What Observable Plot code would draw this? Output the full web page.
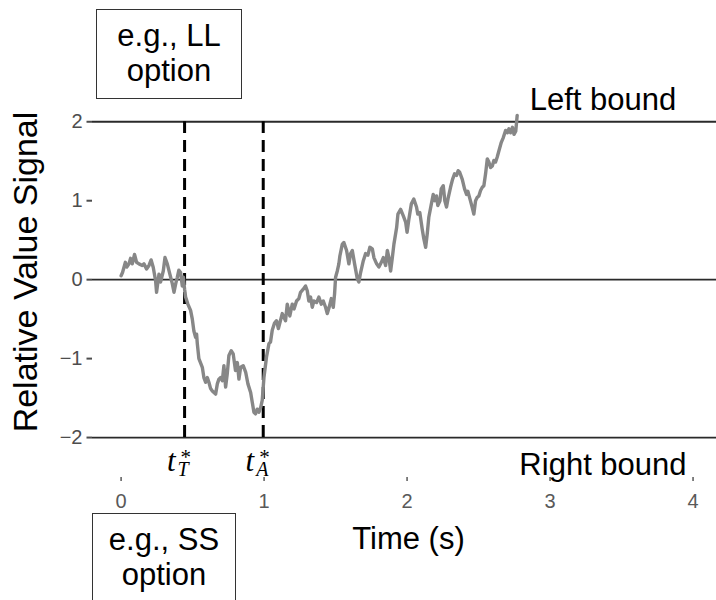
<!DOCTYPE html>
<html>
<head>
<meta charset="utf-8">
<script src="https://cdn.jsdelivr.net/npm/d3@7"></script>
<script src="https://cdn.jsdelivr.net/npm/@observablehq/plot@0.6"></script>
<style>
  html, body { margin: 0; padding: 0; background: #fff; overflow: hidden; }
  #wrap { position: relative; width: 716px; height: 600px; overflow: hidden; font-family: "Liberation Sans", Arial, sans-serif; }
  .box { position: absolute; box-sizing: border-box; border: 1.5px solid #333; background: #fff;
         font-size: 31px; line-height: 35px; text-align: center; color: #000; padding-top: 8px; }
</style>
</head>
<body>
<div id="wrap"></div>
<script>
// ---- data ----
const time = [0.0,0.01,0.03,0.04,0.055,0.066,0.078,0.094,0.108,0.125,0.148,0.16,0.178,0.195,0.21,0.225,0.241,0.248,0.265,0.276,0.295,0.307,0.323,0.341,0.358,0.37,0.382,0.393,0.404,0.416,0.428,0.436,0.444,0.451,0.467,0.486,0.498,0.509,
0.521,0.528,0.533,0.544,0.568,0.579,0.591,0.603,0.614,0.626,0.638,0.661,0.673,0.684,0.696,0.708,0.719,0.731,0.742,0.754,0.77,0.784,0.80,0.813,0.824,0.836,0.854,0.871,0.887,0.906,0.917,0.929,0.94,0.952,0.964,0.976,0.987,0.999,1.017,1.034,1.045,1.057,1.073,1.087,1.1,
1.127,1.15,1.162,1.18,1.197,1.21,1.227,1.243,1.255,1.274,1.29,1.302,1.313,1.325,1.337,1.348,1.367,1.383,1.4,1.414,1.43,1.442,1.455,1.47,1.484,1.493,1.5,1.512,1.523,1.53,1.547,1.558,1.577,1.593,1.605,1.617,1.633,1.652,1.663,1.675,1.694,1.71,1.726,1.74,1.757,1.768,1.787,1.803,1.82,1.834,1.85,1.862,1.873,1.885,1.897,1.908,1.927,1.936,1.955,1.973,1.99,2.0,2.013,
2.03,2.047,2.066,2.075,2.089,2.106,2.117,2.13,2.141,2.152,2.17,2.183,2.195,2.206,2.215,2.23,2.239,2.253,2.264,2.276,2.288,2.304,2.318,2.332,2.346,2.357,2.368,2.386,2.402,2.416,2.425,2.44,2.455,2.467,2.479,2.49,2.502,2.514,2.526,2.537,2.549,2.561,2.572,2.584,2.596,2.607,2.619,2.63,2.642,2.659,2.673,2.689,2.701,2.712,2.724,2.737,2.748,2.76,2.77];
const signal = [0.05,0.09,0.22,0.16,0.2,0.27,0.2,0.32,0.22,0.2,0.18,0.2,0.135,0.18,0.25,0.155,-0.01,-0.16,0.07,-0.03,0.11,0.28,0.2,0.07,-0.05,-0.16,-0.05,0.03,0.12,0.09,-0.08,0.03,-0.12,-0.22,-0.31,-0.39,-0.5,-0.65,
-0.73,-0.69,-0.81,-1.0,-1.11,-1.24,-1.3,-1.24,-1.3,-1.38,-1.41,-1.45,-1.32,-1.26,-1.24,-1.28,-1.09,-1.36,-1.2,-0.96,-0.9,-0.94,-1.15,-1.05,-1.26,-1.11,-1.09,-1.17,-1.32,-1.43,-1.55,-1.68,-1.7,-1.64,-1.68,-1.62,-1.53,-1.24,-0.98,-0.81,-0.79,-0.64,-0.55,-0.52,-0.62,
-0.43,-0.52,-0.31,-0.46,-0.31,-0.37,-0.27,-0.24,-0.16,-0.12,-0.08,-0.14,-0.27,-0.22,-0.35,-0.27,-0.29,-0.22,-0.31,-0.27,-0.35,-0.43,-0.35,-0.24,-0.35,-0.18,0.03,0.11,0.2,0.3,0.45,0.47,0.37,0.2,0.33,0.37,0.2,0.01,-0.03,0.09,0.24,0.33,0.31,0.41,0.39,0.28,0.2,0.16,0.22,0.28,0.18,0.37,0.28,0.11,0.28,0.45,0.66,0.83,0.89,0.81,0.73,0.6,0.77,
0.96,1.02,0.92,0.83,0.85,0.64,0.52,0.41,0.58,0.79,0.96,1.08,1.0,1.06,0.94,1.0,1.15,1.19,1.0,0.92,1.04,1.17,1.27,1.34,1.32,1.38,1.36,1.27,1.15,1.08,1.12,1.02,0.92,0.83,1.0,1.04,1.06,1.13,1.17,1.19,1.34,1.53,1.49,1.42,1.44,1.51,1.49,1.55,1.63,1.74,1.8,1.89,1.86,1.91,1.86,1.93,1.84,1.88,2.08];

const bounds = [2, 0, -2];                    // horizontal reference lines
const boundLabels = ["Left bound", "Right bound"];
const boundLabelX = [3.37, 3.37];
const boundLabelY = [2.28, -2.35];
const markerTimes = [0.444, 0.994];           // t*_T and t*_A
const markerSubs = ["T", "A"];
const xTicks = [0, 1, 2, 3, 4];
const yTicks = [-2, -1, 0, 1, 2];
const xTitle = "Time (s)";
const yTitle = "Relative Value Signal";
const boxTop = ["e.g., LL", "option"];
const boxBottom = ["e.g., SS", "option"];

// ---- chart ----
const sans = "Liberation Sans, Arial, sans-serif";
const serif = "Liberation Serif, DejaVu Serif, serif";

const chart = Plot.plot({
  width: 716,
  height: 600,
  marginLeft: 92,
  marginRight: 0,
  marginTop: 66,
  marginBottom: 123,
  style: { fontFamily: sans, fontSize: "20px", background: "white", overflow: "visible" },
  x: { domain: [-0.2, 4.164] },
  y: { domain: [-2.506, 2.7] },
  marks: [
    Plot.axisX({ ticks: xTicks, anchor: "bottom", tickSize: 4, tickPadding: 12,
                 color: "#595959", strokeWidth: 1.5, label: null, tickFormat: d => String(d) }),
    Plot.axisY({ ticks: yTicks, anchor: "left", tickSize: 5.5, tickPadding: 4.5,
                 color: "#4d4d4d", strokeWidth: 2, label: null,
                 tickFormat: d => (d < 0 ? "\u2212" + Math.abs(d) : String(d)) }),
    Plot.ruleY(bounds, { stroke: "#2a2a2a", strokeWidth: 1.8 }),
    Plot.ruleX(markerTimes, { y1: -2, y2: 2, stroke: "#000", strokeWidth: 3, strokeDasharray: "12,7" }),
    Plot.line(time, { x: time, y: signal, stroke: "#878787", strokeWidth: 3.4, strokeLinejoin: "round" }),
    Plot.text(boundLabels, { x: boundLabelX, y: boundLabelY, text: d => d, fontSize: 31, fill: "#000" }),
    // t* labels under each dashed line
    Plot.text(markerTimes, { x: d => d, y: () => -2, text: () => "t", fontFamily: serif, fontStyle: "italic",
                             fontSize: 31, textAnchor: "end", dx: -9, dy: 23.5, fill: "#000" }),
    Plot.text(markerTimes, { x: d => d, y: () => -2, text: () => "*", fontFamily: serif,
                             fontSize: 21, textAnchor: "start", dx: -4, dy: 19.5, fill: "#000" }),
    Plot.text(markerTimes, { x: d => d, y: () => -2, text: (d, i) => markerSubs[i], fontFamily: serif, fontStyle: "italic",
                             fontSize: 20, textAnchor: "start", dx: -7, dy: 32.5, fill: "#000" }),
    // axis titles
    Plot.text([xTitle], { frameAnchor: "bottom", text: d => d, fontSize: 31, dx: 4, dy: 71, fill: "#000" }),
    Plot.text([yTitle], { frameAnchor: "left", text: d => d, fontSize: 34, rotate: -90, textAnchor: "middle", dx: -66, fill: "#000" })
  ]
});

const wrap = document.getElementById("wrap");
wrap.appendChild(chart);

function addBox(lines, left, top, width, height) {
  const div = document.createElement("div");
  div.className = "box";
  div.style.left = left + "px";
  div.style.top = top + "px";
  div.style.width = width + "px";
  div.style.height = height + "px";
  lines.forEach(t => { const l = document.createElement("div"); l.textContent = t; div.appendChild(l); });
  wrap.appendChild(div);
}
addBox(boxTop, 96, 9, 146, 90);
addBox(boxBottom, 92, 513, 144, 90);
</script>
</body>
</html>
